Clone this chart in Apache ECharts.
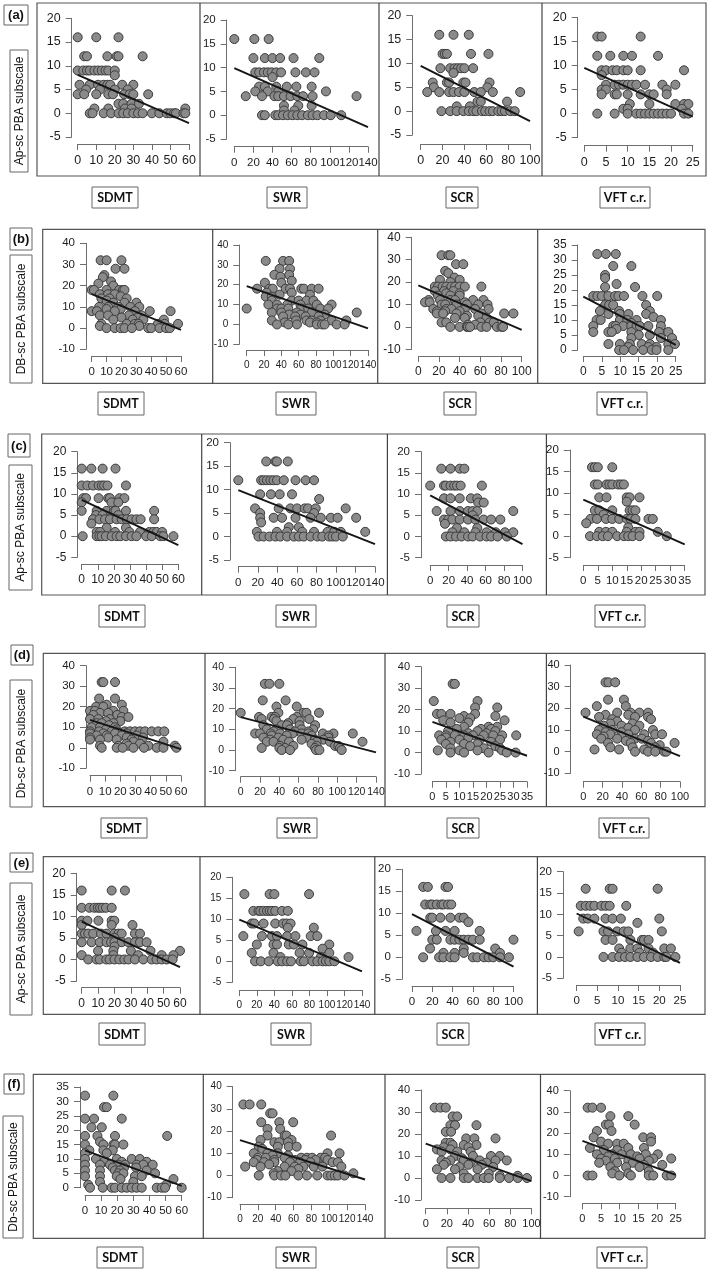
<!DOCTYPE html>
<html><head><meta charset="utf-8">
<script src="https://cdn.jsdelivr.net/npm/echarts@6/dist/echarts.min.js"></script>
<style>html,body{margin:0;padding:0;background:#fff}#c{width:709px;height:1271px}</style>
</head><body><div id="c"></div>
<script>
// ---------- DATA ----------
const xNames = ['SDMT', 'SWR', 'SCR', 'VFT c.r.'];
const rowLetters = ['(a)', '(b)', '(c)', '(d)', '(e)', '(f)'];
const rowYNames = ['Ap-sc PBA subscale', 'DB-sc PBA subscale', 'Ap-sc PBA subscale', 'Db-sc PBA subscale', 'Ap-sc PBA subscale', 'Db-sc PBA subscale'];

// axis ranges [min, max, interval]
const xRanges = [
  [[0,60,10],[0,140,20],[0,100,20],[0,25,5]],
  [[0,60,10],[0,140,20],[0,100,20],[0,25,5]],
  [[0,60,10],[0,140,20],[0,100,20],[0,35,5]],
  [[0,60,10],[0,140,20],[0,35,5],[0,100,20]],
  [[0,60,10],[0,140,20],[0,100,20],[0,25,5]],
  [[0,60,10],[0,140,20],[0,100,20],[0,25,5]]
];
const yRanges = [
  [[-5,20,5],[-5,20,5],[-5,20,5],[-5,20,5]],
  [[-10,40,10],[-10,40,10],[-10,40,10],[0,35,5]],
  [[-5,20,5],[-5,20,5],[-5,20,5],[-5,20,5]],
  [[-10,40,10],[-10,40,10],[-10,40,10],[-10,40,10]],
  [[-5,20,5],[-5,20,5],[-5,20,5],[-5,20,5]],
  [[0,35,5],[-10,40,10],[-10,40,10],[-10,40,10]]
];

const a1 = [[0,16],[10,16],[22,16],[3.5,12],[5,12],[16,12],[21,12],[22,12],[35,12],[0,9],[3,9],[5,9],[6.5,9],[9,9],[11,9],[13,9],[15,9],[16.5,9],[20,9],[20,8],[1,6],[6.5,6],[11,6],[14,6],[16,6],[17.5,6],[24,6],[30,6],[4.5,5],[12,5],[20,5],[27,5],[0,4],[3.5,4],[10,4],[16.5,4],[19,4],[25,4],[28,4],[30,4],[38,4],[22,2],[24.5,2],[29,2],[33,2],[9,1],[16.5,1],[25.5,1],[29,1],[58,1],[6.5,0],[8,0],[14,0],[18,0],[22,0],[24.5,0],[27,0],[30,0],[32.5,0],[35,0],[40,0],[44,0],[48,0],[50,0],[52,0],[53,0],[57,0],[58,0]];
const a2 = [[0,16],[21,16],[36,16],[20,12],[32,12],[40,12],[48,12],[62,12],[89,12],[22,9],[26,9],[31,9],[35,9],[39,9],[44,9],[49,9],[64,9],[75,9],[84,9],[40,8],[26,6],[32,6],[44,6],[55,6],[65,6],[81,6],[22,5],[35,5],[46,5],[96,5],[12,4],[29,4],[42,4],[46,4],[52,4],[59,4],[66,4],[72,4],[82,4],[128,4],[52,2],[67,2],[81,2],[52,1],[63,1],[29,0],[32,0],[43,0],[46,0],[51,0],[56,0],[61,0],[66,0],[71,0],[77,0],[82,0],[87,0],[94,0],[101,0],[112,0]];
const a3 = [[17,16],[30,16],[44,16],[20,12],[22,12],[24,12],[46,12],[62,12],[18,9],[27,9],[31,9],[34,9],[37,9],[40,9],[48,9],[30,8],[11,6],[24,6],[26,6],[39,6],[41,6],[63,6],[12,5],[61,5],[6,4],[17,4],[26,4],[30,4],[35,4],[40,4],[49,4],[55,4],[66,4],[91,4],[52,2],[55,2],[79,2],[33,1],[45,1],[19,0],[27,0],[33,0],[39,0],[44,0],[48,0],[51,0],[56,0],[59,0],[63,0],[66,0],[71,0],[74,0],[77,0],[82,0],[86,0]];
const a4 = [[3,16],[4,16],[13,16],[3,12],[6,12],[9,12],[11,12],[17,12],[4,9],[5,9],[6.5,9],[7.5,9],[9,9],[10,9],[13,9],[23,9],[4,8],[5,6],[7,6],[8,6],[9,6],[10,6],[11,6],[12,6],[14,6],[18,6],[21,6],[4,5],[5,5],[19,5],[4,4],[7,4],[7.5,4],[10,4],[13,4],[15,4],[16,4],[19,4],[10.5,2],[15,2],[21,2],[23,2],[24,2],[9,1],[10,1],[22.5,1],[3,0],[7,0],[10,0],[12,0],[13,0],[14,0],[15,0],[16,0],[17,0],[18,0],[19,0],[20,0],[23,0],[24,0]];

const b1 = [[6,32],[10,32],[20,32],[16,28],[22,28],[8.5,25],[7.5,24],[13,22],[4.5,21],[14.5,20],[0,18],[1.5,18],[10,18],[18.5,18],[21,18],[22,18],[5.5,16],[11,16],[15.5,16],[19.5,15],[6.5,14],[12,14],[23.5,14],[10,13],[14.5,12],[22,12],[30,12],[5,10],[11,10],[18,10],[26,10],[32,10],[10,9],[19.5,9],[0,8],[3.5,8],[15.5,8],[29,8],[39,8],[53,8],[5.5,6],[11,6],[25,6],[33.5,6],[20,5],[31,5],[14.5,4],[27.5,4],[34.7,4],[48.5,4],[6.5,2],[23.5,2],[29,2],[31.5,2],[44.5,2],[49,2],[58,2],[5.5,1],[32,1],[10,0],[15.5,0],[19.5,0],[22,0],[27,0],[38,0],[40,0],[45.5,0],[50,0],[52.5,0]];
const b2 = [[22,32],[42,32],[49,32],[38,28],[50,28],[32,25],[49,25],[39,24],[52,22],[21,21],[40,21],[12,18],[26,18],[30,18],[45,18],[50,18],[63,18],[66,18],[75,18],[83,18],[23,16],[52,16],[38,15],[73,15],[22,14],[29,14],[29,12],[52,12],[60,12],[69,12],[77,12],[25,10],[35,10],[47,10],[62,10],[81,10],[98,10],[0,8],[35,8],[40,8],[48,8],[63,8],[71,8],[85,8],[94,8],[29,6],[40,6],[58,6],[75,6],[127,6],[49,5],[62,5],[90,5],[42,4],[56,4],[68,4],[83,4],[29,2],[57,2],[69,2],[75,2],[85,2],[98,2],[115,2],[44,1],[73,1],[81,1],[35,0],[48,0],[58,0],[81,0],[87,0],[90,0],[104,0],[113,0]];
const b3 = [[22.5,32],[29,32],[31,32],[36.5,28],[43.5,28],[26,25],[29,24],[35,22],[21,21],[40,21],[31,20],[16,18],[19,18],[23.5,18],[27,18],[32,18],[35.5,18],[40,18],[45,18],[61,18],[16,16],[25,16],[34,16],[27,15],[40,15],[19,14],[31,14],[40,14],[10,12],[21,12],[31,12],[35.5,12],[53,12],[63,12],[6.5,11],[11,11],[45,11],[22.5,10],[26,10],[37,10],[47,10],[58,10],[67,10],[14.5,8],[27,8],[32,8],[45,8],[55,8],[68,8],[18,7],[26,7],[40,7],[18,6],[24,6],[37,6],[61,6],[83,6],[92,6],[47,5],[58,5],[35.5,4],[45,4],[66,4],[22.5,2],[27,2],[60,2],[69,2],[73,2],[48,1],[55,1],[31,0],[40,0],[47,0],[48,0],[50,0],[61,0],[66,0],[76,0],[80.5,0],[82,0]];
const b4 = [[3.8,32],[6.1,32],[8.8,32],[8.1,28],[13,28],[5.9,25],[5.9,24],[9,22],[5.9,21],[14,21],[2.7,18],[3.8,18],[5,18],[6.8,18],[8.6,18],[9.5,18],[11,18],[16,18],[20,18],[5.9,15],[7,15],[8.1,15],[17,15],[4.5,13],[9.7,13],[18,13],[6.8,12],[9.9,12],[12.2,12],[17,12],[19,11],[3.6,10],[4.7,10],[9.9,10],[11.9,10],[14.4,10],[21,10],[13,9],[2.7,8],[8.1,8],[8.8,8],[10.8,8],[13,8],[14.4,8],[15.3,8],[17.6,8],[21,8],[9,7],[2.7,6],[6.8,6],[7.7,6],[13,6],[20.5,6],[23,6],[15,5],[18,5],[13,4],[21,4],[24,4],[6.8,2],[9.9,2],[12.6,2],[15.8,2],[18,2],[23,2],[24.8,2],[12.2,1],[17.6,1],[19.8,1],[9.7,0],[11,0],[13.5,0],[16.2,0],[18.5,0],[19.8,0],[23,0]];

const c1 = [[0,16],[6,16],[13,16],[21,16],[0,12],[3.5,12],[7,12],[10.5,12],[12.5,12],[14,12],[16,12],[27.5,12],[1,9],[2.7,9],[10.5,9],[16.5,9],[17.5,9],[23.5,9],[26.5,9],[0,8],[18.5,8],[22.7,8],[0,6],[9.3,6],[15.5,6],[20,6],[21,6],[27.5,6],[45,6],[8.9,5],[13,5],[22.7,5],[7,4],[11,4],[14.5,4],[17.5,4],[21.7,4],[24.8,4],[28,4],[31,4],[34,4],[36.6,4],[45,4],[6,3],[15.5,2],[27.5,2],[9.3,1],[11.4,1],[20.7,1],[29.6,1],[36.2,1],[42,1],[44.5,1],[46.6,1],[50,1],[0.6,0],[9.3,0],[11,0],[12.4,0],[15,0],[18.6,0],[21.7,0],[24,0],[27.5,0],[31,0],[34,0],[40,0],[43.5,0],[48.7,0],[50.7,0],[57,0]];
const c2 = [[28.6,16],[38,16],[39.6,16],[50.7,16],[0,12],[23.4,12],[25.9,12],[29.3,12],[32.8,12],[36,12],[39.6,12],[46.6,12],[58.6,12],[69,12],[77.6,12],[22.4,9],[33.4,9],[42.4,9],[55,9],[82.8,8],[17.2,6],[41.4,6],[53.4,6],[60.3,6],[68,6],[71.4,6],[79.3,6],[110,6],[22.4,5],[77.6,5],[22.4,4],[36.2,4],[44.8,4],[58.6,4],[74,4],[84.5,4],[94.8,4],[101.7,4],[120.7,4],[23.4,3],[51.7,2],[62,2],[19,1],[39.6,1],[50,1],[65.5,1],[77.6,1],[91.4,1],[98.3,1],[105,1],[130,1],[20.7,0],[25.9,0],[32,0],[38,0],[43,0],[50,0],[57,0],[62,0],[67,0],[74,0],[81,0],[86,0],[93,0],[96.5,0],[100,0],[107,0]];
const c3 = [[12,16],[22,16],[32,16],[37,16],[0,12],[15,12],[17,12],[22,12],[26,12],[29,12],[33,12],[56,12],[15,9],[22,9],[32,9],[44,9],[51,9],[52,8],[58,8],[7,6],[22,6],[32,6],[41,6],[46,6],[51,6],[90,6],[46,5],[15,4],[19.5,4],[24,4],[32,4],[41,4],[49,4],[58,4],[66,4],[76,4],[16,3],[29,2],[51,2],[24,1],[37,1],[49,1],[61,1],[71,1],[81,1],[90,1],[17,0],[22,0],[28,0],[34,0],[41,0],[46,0],[54,0],[61,0],[66,0],[73,0],[83,0]];
const c4 = [[3,16],[4,16],[5,16],[10,16],[4,12],[5,12],[8,12],[9,12],[10,12],[12,12],[13,12],[14,12],[5.5,9],[8,9],[15,9],[16,9],[19.4,9],[15,8],[4,6],[5.5,6],[10,6],[16,6],[17,6],[18,6],[7,5],[2.5,4],[4.7,4],[7.8,4],[10,4],[12.4,4],[15,4],[16.3,4],[18,4],[22.5,4],[24,4],[1,3],[15.5,2],[5.5,1],[7.8,1],[10,1],[15,1],[18,1],[19.4,1],[25.7,1],[2.3,0],[4.7,0],[6.7,0],[8.5,0],[11.7,0],[14,0],[15.5,0],[17,0],[19.4,0],[28.8,0]];

const d1 = [[7.7,32],[8.8,32],[16.5,32],[6,24],[16.5,24],[11,21],[21,21],[4,20],[8.8,20],[0,18],[3.3,18],[15.4,18],[22,18],[6.6,17],[12,17],[2.2,16],[18,16],[21,15],[25.3,15],[0,14],[5.5,14],[13,14],[10.5,13],[20,13],[4.4,12],[7.7,12],[15.4,12],[12.5,11],[1,10],[6.6,10],[16.5,10],[10.5,9],[17.6,9],[0,8],[6,8],[14.3,8],[17.6,8],[23,8],[26.4,8],[29.7,8],[33,8],[36.3,8],[40.7,8],[45,8],[49,8],[0,7],[8.8,7],[16.5,7],[24.2,7],[4.4,6],[11,6],[21,6],[30.8,6],[0,5],[12,5],[24.2,5],[35,5],[0,4],[6.6,4],[17.6,4],[27.5,4],[28.6,3],[48.4,3],[24.2,2],[33,2],[6.6,1],[18.7,1],[25.3,1],[38.5,1],[56,1],[7.7,0],[17.6,0],[21.5,0],[28.6,0],[35.6,0],[44,0],[48.4,0],[57,0]];
const d2 = [[25,32],[29.7,32],[40,32],[22.8,24],[46.5,24],[37,21],[58,21],[0,18],[39,18],[65,18],[68,18],[81,18],[19,16],[32,16],[35.5,16],[58,16],[21.7,15],[34.5,15],[54.5,15],[71,15],[37,14],[61,14],[49,13],[23.4,12],[42.4,12],[48,12],[61,12],[77,12],[27,10],[37,10],[51,10],[63,10],[75,10],[34,9],[56,9],[70,9],[15,8],[20,8],[31,8],[40.7,8],[53.8,8],[63,8],[70,8],[85,8],[96,8],[116,8],[32,7],[47.6,7],[73.4,7],[90.7,7],[23.4,6],[39,6],[68,6],[90.7,6],[30.3,5],[44,5],[63,5],[77,5],[85.5,5],[27,4],[34,4],[50,4],[78.6,4],[92.4,4],[126,4],[73.4,3],[40.7,2],[54.5,2],[78.6,2],[97.6,2],[101,2],[21.7,1],[40,1],[45.9,1],[77,1],[102.8,1],[42.4,0],[51,0],[78,0],[81.4,0],[104.5,0]];
const d3 = [[7.5,32],[8.3,32],[0.5,24],[16.7,24],[15.8,21],[24,21],[1.7,18],[3.3,18],[6.7,18],[15.8,18],[11.7,17],[23.3,17],[10,16],[14,16],[4,15],[26.7,15],[6.7,14],[13.3,14],[11.7,12],[20.8,12],[24,12],[9,11],[18,11],[21.7,11],[5.8,10],[16.7,10],[23.3,10],[13.3,9],[20,9],[2.5,8],[5,8],[8.3,8],[11.7,8],[15,8],[19,8],[22.5,8],[25.8,8],[31,8],[5,7],[13.3,7],[3.3,6],[10,6],[17.5,6],[25,6],[6.7,5],[21.7,5],[5,4],[11.7,4],[16.7,4],[14,3],[23.3,3],[6.7,2],[19,2],[25,2],[2,1],[10,1],[16.7,1],[25.8,1],[6.7,0],[11.7,0],[20.8,0],[27.5,0],[30.8,0]];
const d4 = [[23,32],[26,32],[33,32],[25.6,24],[42,24],[14,21],[44,21],[2.3,18],[35,18],[49,18],[58,18],[67,18],[23,17],[46.5,17],[16.3,16],[53.5,16],[67,16],[30,15],[70,15],[35,14],[28,13],[51,13],[21,12],[39.5,12],[58,12],[46.5,11],[16.3,10],[30,10],[53.5,10],[72,10],[23,9],[39.5,9],[14,8],[28,8],[46.5,8],[63,8],[74.4,8],[81.4,8],[21,7],[39.5,7],[18.6,6],[35,6],[53.5,6],[60.5,6],[44,5],[67,5],[25.6,4],[49,4],[70,4],[94.4,4],[79,3],[28,2],[51,2],[74.4,2],[11.6,1],[37,1],[63,1],[76.7,1],[53.5,0],[67,0],[74.4,0],[83.7,0],[86,0]];

const e1 = [[0,16],[18.3,16],[26.4,16],[0,12],[4.7,12],[7.7,12],[9.8,12],[11.2,12],[12.8,12],[14.8,12],[18.3,12],[0,9],[3.5,9],[10.2,9],[18.3,9],[19.9,9],[0,8],[18.3,8],[31,8],[0,6],[2,6],[4,6],[7,6],[11.8,6],[15.2,6],[20,6],[22.4,6],[24.4,6],[32.5,6],[35.6,6],[20,5],[0,4],[6,4],[11,4],[15.2,4],[17.9,4],[20,4],[24.4,4],[28.5,4],[32.5,4],[35.6,4],[39.6,4],[20,3],[10,2],[19.3,2],[30,2],[42,2],[60,2],[0,1],[19.3,1],[34.5,1],[48.8,1],[56,1],[4,0],[9,0],[11,0],[15,0],[17,0],[20,0],[23,0],[26,0],[28.5,0],[32.5,0],[37.6,0],[42.7,0],[45.7,0],[48.8,0],[51.8,0],[55.5,0]];
const e2 = [[5.8,16],[34.6,16],[40,16],[79.6,16],[16,12],[22,12],[24,12],[27.7,12],[31.5,12],[34.6,12],[37.3,12],[41,12],[48.8,12],[55.4,12],[14.2,9],[17,9],[27.7,9],[41,9],[50,9],[54,9],[58.5,9],[55.4,8],[85,8],[4.6,6],[25.8,6],[37.3,6],[43,6],[54.6,6],[64,6],[81.5,6],[89,6],[20,4],[39,4],[43,4],[56.5,4],[62.3,4],[72,4],[102.7,4],[95,3],[14.2,2],[39,2],[68.8,2],[79.6,2],[102.7,2],[47,1],[93,1],[124.6,1],[18,0],[24.6,0],[33.5,0],[43.8,0],[48.8,0],[54.6,0],[59,0],[70,0],[73.8,0],[83.5,0],[89,0],[95,0],[98.8,0],[102.7,0],[108.5,0]];
const e3 = [[11,16],[15.6,16],[33,16],[35.5,16],[13,12],[18,12],[20,12],[24.4,12],[29,12],[31,12],[35.5,12],[38.7,12],[18,9],[20,9],[28,9],[37.8,9],[46.7,9],[51,9],[55.6,8],[4.4,6],[23.6,6],[33,6],[42,6],[66.7,6],[20,4],[24.4,4],[37.8,4],[42,4],[46.7,4],[51,4],[55.6,4],[60,4],[66.7,4],[100,4],[17.8,2],[51,2],[82,2],[31,1],[42,1],[51,1],[86.7,1],[11,0],[26.7,0],[31,0],[37.8,0],[42,0],[60,0],[64.4,0],[71,0],[75.5,0],[80,0],[86.7,0],[95.5,0]];
const e4 = [[2.2,16],[8,16],[8.7,16],[19.6,16],[1,12],[2.2,12],[3.3,12],[4.3,12],[6,12],[7,12],[8,12],[12,12],[1.6,9],[2.7,9],[4.3,9],[7,9],[8.7,9],[10.7,9],[20,9],[14.7,8],[0.5,6],[6.5,6],[7.6,6],[9.8,6],[11.4,6],[12.5,6],[20.6,6],[7,4],[8.7,4],[13,4],[15.8,4],[16.3,4],[17.4,4],[10.3,2],[13,2],[14.7,2],[17.4,2],[21.2,2],[22.8,2],[10.9,1],[15.2,1],[18.5,1],[6.5,0],[8.7,0],[10.3,0],[11.7,0],[13,0],[14.7,0],[16.3,0],[18,0],[19.6,0],[21.2,0],[21.7,0],[23.9,0]];

const f1 = [[0,32],[17.6,32],[11.8,28],[13.5,28],[0,24],[5.6,24],[22.8,24],[4,21],[10.4,21],[0,18],[7.7,18],[18.6,18],[51,18],[9.3,16],[0,15],[11.4,15],[17.6,15],[18.6,15],[23.8,15],[2.7,13],[11.4,13],[17.2,13],[0,12],[13.5,12],[0,10],[6.8,10],[19.7,10],[29,10],[34,10],[11.8,9],[22.8,9],[38.3,9],[0,8],[9.3,8],[15.5,8],[20.7,8],[24.8,8],[32,8],[36.2,8],[42,8],[17.2,7],[24.2,7],[31.7,7],[0,6],[9.3,6],[18.6,6],[21.7,6],[38.3,6],[20.7,5],[23.8,5],[43.5,5],[0,4],[9.3,4],[19.7,4],[31,4],[35.2,4],[22,3],[54.9,3],[9.3,2],[30,2],[2,1],[50.3,1],[3.1,0],[11,0],[16.6,0],[18.6,0],[22.8,0],[25.9,0],[29,0],[32,0],[35.2,0],[44.5,0],[47.6,0],[49.7,0],[60,0]];
const f2 = [[3.8,32],[10.8,32],[23.8,32],[33.8,28],[36.5,28],[23.8,24],[44,24],[59.6,24],[30.8,21],[45,21],[30.8,18],[50,18],[52,18],[102,18],[23,16],[57.7,16],[38.5,15],[44,15],[53.8,15],[21,13],[42.3,13],[54.6,13],[63.5,13],[25,12],[15.4,10],[30.8,10],[42.3,10],[98,10],[111.5,10],[36.5,9],[53.8,9],[20,8],[28.8,8],[50,8],[68.5,8],[75,8],[80.8,8],[90.4,8],[95.4,8],[19.2,7],[38.5,7],[61.5,7],[73,7],[84.6,7],[98,7],[15.4,6],[27,6],[38.5,6],[55.8,6],[67.3,6],[78.8,6],[103.8,6],[109.6,6],[32.7,5],[5.8,4],[23,4],[50,4],[61.5,4],[71,4],[82.7,4],[92.3,4],[113.5,4],[65.4,3],[42.3,2],[57.7,2],[37.7,1],[127,1],[21,0],[38.5,0],[46,0],[50.8,0],[65.4,0],[75,0],[86.5,0],[98,0],[102,0],[106,0],[109.6,0],[117,0]];
const f3 = [[8.5,32],[14,32],[19,32],[25.5,28],[29.8,28],[23.4,24],[27.7,24],[48,24],[19,21],[24,21],[38.3,18],[46,18],[66,18],[19,16],[23.4,16],[25.5,15],[36,15],[48,15],[17,14],[40.4,14],[10.6,13],[23.4,13],[15,12],[29.8,12],[42.5,12],[27.7,10],[44.7,10],[61.7,10],[70,10],[34,9],[15,8],[23.4,8],[36,8],[51,8],[66,8],[76.6,8],[19,7],[42.5,7],[57.4,7],[17,6],[40.4,6],[53,6],[32,5],[63.8,5],[10.6,4],[27.7,4],[49,4],[36,2],[59.6,2],[70,1],[87,1],[15,0],[23.4,0],[36,0],[40.4,0],[49,0],[55,0],[59.6,0],[70,0],[78.7,0],[87,0],[95.7,0]];
const f4 = [[1.4,32],[2.7,32],[5,32],[7.5,28],[12.3,28],[6.3,24],[7.1,24],[14,24],[3.9,21],[7.8,21],[3,18],[16.3,18],[18.4,18],[5,16],[18.4,16],[6.9,15],[9.3,15],[11.1,15],[2,13],[12.3,13],[16.5,13],[5.7,12],[9.3,12],[3.9,10],[8,10],[10.5,10],[13,10],[17,10],[20.2,10],[6.9,9],[14.7,9],[5,8],[8.7,8],[15.3,8],[19,8],[23.8,8],[6.3,7],[12.3,7],[17.8,7],[4.5,6],[9.3,6],[13.5,6],[16.5,5],[21.4,5],[7.5,4],[11.7,4],[15.3,4],[8.7,2],[17.8,2],[8,1],[12.3,1],[1.4,0],[2.7,0],[9.9,0],[13,0],[17.8,0],[19,0],[22.6,0],[23.8,0]];

// fitted regression lines (end points)
const fitA = [[[0,8.1],[60,-2.1]], [[0,9.9],[140,-2.5]], [[0,9.5],[100,-2.1]], [[0,9.5],[25,-0.6]]];
const fitB = [[[0,16],[60,-0.8]], [[0,19.3],[140,-2]], [[0,18.5],[100,-1.3]], [[0,17.8],[25,1.7]]];
const fitC = [[[0,8.6],[60,-2.1]], [[0,9.9],[140,-1.6]], [[0,9.7],[100,-1.8]], [[0,8.5],[35,-1.9]]];
const fitD = [[[0,13.6],[60,-0.7]], [[0,15.9],[140,-1.1]], [[0,14.3],[35,-1.5]], [[0,16.2],[100,-2.1]]];
const fitE = [[[0,8.8],[60,-1.8]], [[0,9.9],[140,-2.4]], [[0,9.8],[100,-2.1]], [[0,10.2],[25,-1.4]]];
const fitF = [[[0,13],[60,0.6]], [[0,15.9],[140,-1.8]], [[0,15.6],[100,-1.4]], [[0,16.3],[25,0.3]]];

const pointSets = [[a1,a2,a3,a4],[b1,b2,b3,b4],[c1,c2,c3,c4],[d1,d2,d3,d4],[e1,e2,e3,e4],[f1,f2,f3,f4]];
const fitSets = [fitA, fitB, fitC, fitD, fitE, fitF];

// ---------- LAYOUT (pixel geometry) ----------
// per panel: [x px of xmin, x px of xmax, y px of ymax, y px of ymin, y-axis line x, x-axis line y, font size]
const panelGeom = [
  [[77.7,189,18.3,137,71.7,144,12.5],[234.3,368,20,139,226.7,146.7,11.5],[420.7,530,15.7,135,412.3,144,12.5],[584.3,692.7,17.3,137.7,577.7,145.7,12.5]],
  [[91.7,181,243.3,349.3,86,356,11.5],[246.7,368,245,344.3,239.3,350,10],[418.3,521.7,237.3,349.3,411.7,356,12],[583.3,675.7,245,350,577.7,356,12]],
  [[81.7,178.3,451.7,557.3,77.3,564,12],[238.3,375,442.7,560,230,566.7,11.5],[430.2,522.5,451.7,557.7,421,565,11.5],[583.3,684.7,450,557.7,569.8,565,11.5]],
  [[90,181,665.7,768.3,86,775.7,11.5],[240.7,376,667.3,770.7,235,776.7,10.5],[432.4,527,666.7,774,421,781.7,11],[583.3,680,665,773.3,570.7,781.7,11]],
  [[81.7,180,873.3,981,76.7,987.7,12],[239.3,362,877.3,982.3,232.3,990,10],[412,513.5,869.3,979.3,401.8,986,11.5],[576.6,680,871.7,978.3,563,985,11.5]],
  [[85,181.7,1087,1187.7,80,1195,11.5],[240,365,1086.7,1197.7,232.7,1204.3,10],[425.7,531.5,1090,1200,421,1208.3,11],[582.4,675.7,1090.7,1196.7,569.8,1203.3,11]]
];
// row frames: [left, top, right, bottom, sep1, sep2, sep3]
const rowFrames = [
  [37,3,706,176,200,379,542],
  [42.7,229.3,705,383.3,212.7,377.7,537.7],
  [41.7,434,705,595,201.7,387.4,546.4],
  [43.3,653.3,705,806.7,205,385,546.4],
  [43.3,856.7,705,1014.3,200,374.8,537.4],
  [33.3,1074.3,705,1238.3,203.3,385,540.5]
];
const letterBoxes = [[4,5,24,20],[10,228,22,22],[8,434,22,23],[11,645,22,20],[10,853,23,19],[4,1074,20,20]];
const yNameBoxes = [[10,50,18,122],[10,255,22,128],[9,465,23,125],[10,680,22,127],[10,883,22,132],[3,1116,20,122]];
const xNameRowY = [[187,21],[392,23],[605,22],[818,20],[1023,22],[1247,21]];
const xNameCenters = [[115,287,462,625],[121,296,460,622],[122,296,463,620],[124,297,463,624],[122,291,453,620],[120,296,463,622]];
const xNameWidths = [46,40,32,50];

// ---------- BUILD ----------
const grids = [], xAxes = [], yAxes = [], series = [], graphics = [];
const axisCol = '#6e6e6e', txtCol = '#1d1d1d';
let gi = 0;
for (let r = 0; r < 6; r++) {
  for (let c = 0; c < 4; c++) {
    const g = panelGeom[r][c];
    const xr = xRanges[r][c], yr = yRanges[r][c];
    grids.push({left: g[0], top: g[2], width: g[1] - g[0], height: g[3] - g[2], containLabel: false, outerBoundsMode: 'none', show: false});
    const common = {
      type: 'value', gridIndex: gi, splitLine: {show: false},
      axisLine: {show: true, onZero: false, lineStyle: {color: axisCol, width: 1}},
      axisTick: {show: true, length: 6, inside: false, lineStyle: {color: axisCol, width: 1}},
      axisLabel: {show: true, color: txtCol, fontSize: g[6], fontFamily: '"Liberation Sans", Arial, sans-serif', hideOverlap: false, showMinLabel: true, showMaxLabel: true}
    };
    xAxes.push(Object.assign({}, common, {min: xr[0], max: xr[1], interval: xr[2], offset: g[5] - g[3],
      axisLabel: Object.assign({}, common.axisLabel, {margin: 10})}));
    yAxes.push(Object.assign({}, common, {min: yr[0], max: yr[1], interval: yr[2], offset: g[0] - g[4],
      axisLabel: Object.assign({}, common.axisLabel, {margin: 11})}));
    series.push({type: 'scatter', xAxisIndex: gi, yAxisIndex: gi, data: pointSets[r][c], symbol: 'circle', symbolSize: 9, clip: false,
      itemStyle: {color: '#8a8a8a', borderColor: '#3c3c3c', borderWidth: 1, opacity: 1}, emphasis: {disabled: true}, z: 2});
    series.push({type: 'line', xAxisIndex: gi, yAxisIndex: gi, data: fitSets[r][c], symbol: 'none', clip: false,
      lineStyle: {color: '#151515', width: 1.9}, z: 3, silent: true});
    gi++;
  }
  // frames
  const f = rowFrames[r];
  graphics.push({type: 'rect', shape: {x: f[0], y: f[1], width: f[2] - f[0], height: f[3] - f[1]}, style: {fill: 'none', stroke: '#555', lineWidth: 1.2}, silent: true, z: 0});
  for (let s = 4; s < 7; s++) {
    graphics.push({type: 'line', shape: {x1: f[s], y1: f[1], x2: f[s], y2: f[3]}, style: {stroke: '#444', lineWidth: 1.2}, silent: true});
  }
  // row letter
  const lb = letterBoxes[r];
  graphics.push({type: 'rect', shape: {x: lb[0], y: lb[1], width: lb[2], height: lb[3]}, style: {fill: '#fff', stroke: '#666', lineWidth: 1}, silent: true});
  graphics.push({type: 'text', x: lb[0] + lb[2] / 2, y: lb[1] + lb[3] / 2 + 0.5, style: {text: rowLetters[r], fill: '#111', font: 'bold 13px "Liberation Sans", Arial, sans-serif', textAlign: 'center', textVerticalAlign: 'middle', align: 'center', verticalAlign: 'middle'}, silent: true});
  // y name
  const yb = yNameBoxes[r];
  graphics.push({type: 'rect', shape: {x: yb[0], y: yb[1], width: yb[2], height: yb[3]}, style: {fill: '#fff', stroke: '#666', lineWidth: 1}, silent: true});
  graphics.push({type: 'text', x: yb[0] + yb[2] / 2 + 0.5, y: yb[1] + yb[3] / 2, rotation: Math.PI / 2, style: {text: rowYNames[r], fill: '#111', font: '12px "Liberation Sans", Arial, sans-serif', textAlign: 'center', textVerticalAlign: 'middle', align: 'center', verticalAlign: 'middle'}, silent: true});
  // x names
  for (let c = 0; c < 4; c++) {
    const cx = xNameCenters[r][c], w = xNameWidths[c], ry = xNameRowY[r];
    graphics.push({type: 'rect', shape: {x: cx - w / 2, y: ry[0], width: w, height: ry[1]}, style: {fill: '#fff', stroke: '#666', lineWidth: 1}, silent: true});
    graphics.push({type: 'text', x: cx, y: ry[0] + ry[1] / 2 + 0.5, style: {text: xNames[c], fill: '#111', font: 'bold 12.5px Lato, "Open Sans", sans-serif', textAlign: 'center', textVerticalAlign: 'middle', align: 'center', verticalAlign: 'middle'}, silent: true});
  }
}

const chart = echarts.init(document.getElementById('c'), null, {renderer: 'canvas', width: 709, height: 1271});
chart.setOption({
  animation: false,
  backgroundColor: '#ffffff',
  grid: grids, xAxis: xAxes, yAxis: yAxes, series: series,
  graphic: {elements: graphics}
});
</script></body></html>
